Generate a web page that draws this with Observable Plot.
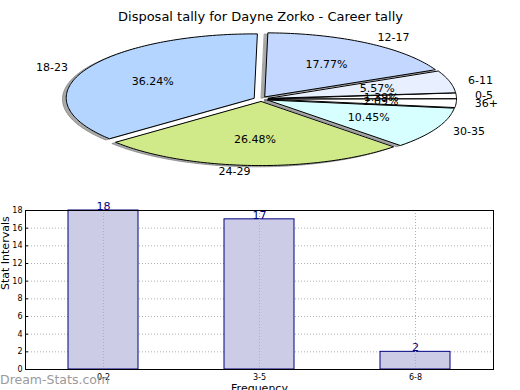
<!DOCTYPE html>
<html>
<head>
<meta charset="utf-8">
<script src="https://cdn.jsdelivr.net/npm/d3@7"></script>
<script src="https://cdn.jsdelivr.net/npm/@observablehq/plot@0.6"></script>
<style>
  html, body { margin: 0; padding: 0; background: #fff; }
  #wrap { position: relative; width: 520px; height: 390px; overflow: hidden; font-family: "DejaVu Sans", sans-serif; }
  #pie, #bar { position: absolute; left: 0; }
  #pie { top: 0; }
  #bar { top: 200px; }
  #wm { position: absolute; left: 0; top: 372px; font-size: 12.5px; color: #9a9a9a; font-family: "DejaVu Sans", sans-serif; }
</style>
</head>
<body>
<div id="wrap">
  <div id="pie"></div>
  <div id="bar"></div>
  <div id="wm">Dream-Stats.com</div>
</div>
<script>
// ---- data ----
const title = "Disposal tally for Dayne Zorko - Career tally";
const pieLabels = ["0-5", "6-11", "12-17", "18-23", "24-29", "30-35", "36+"];
const piePct = [1.39, 5.57, 17.77, 36.24, 26.48, 10.45, 2.09];
const pieColors = ["#ffffff", "#e8f0ff", "#c4d8ff", "#b3d5ff", "#d0ea8a", "#d8ffff", "#ffffff"];

const barCats = ["0-2", "3-5", "6-8"];
const barVals = [18, 17, 2];
const yTicks = [0, 2, 4, 6, 8, 10, 12, 14, 16, 18];

// ---- pie geometry (derived from data) ----
const cx = 260.5, cy = 98.5, rx = 188, ry = 64, explode = 0.04;
const total = d3.sum(piePct);
const slices = [];
let cum = 0;
piePct.forEach((v, i) => {
  const a0 = cum / total * 2 * Math.PI;
  cum += v;
  const a1 = cum / total * 2 * Math.PI;
  const mid = (a0 + a1) / 2;
  slices.push({label: pieLabels[i], pct: v, color: pieColors[i], a0, a1, mid, i});
});
function pt(s, a, r) {
  const ox = cx + explode * rx * Math.cos(s.mid);
  const oy = cy - explode * ry * Math.sin(s.mid);
  return [ox + r * rx * Math.cos(a), oy - r * ry * Math.sin(a)];
}
const poly = [];
const shadow = [];
slices.forEach(s => {
  const n = Math.max(4, Math.ceil((s.a1 - s.a0) / 0.02));
  const pts = [pt(s, s.mid, 0)];
  for (let k = 0; k <= n; k++) pts.push(pt(s, s.a0 + (s.a1 - s.a0) * k / n, 1));
  pts.forEach(([x, y]) => {
    poly.push({x, y, key: s.label, color: s.color});
    shadow.push({x: x - 0.02 * rx, y: y + 0.02 * ry, key: s.label});
  });
});
const outerLabels = slices.map(s => {
  const [x, y] = pt(s, s.mid, 1.1);
  return {x, y, text: s.label, left: Math.cos(s.mid) < 0};
});
const pctLabels = slices.map(s => {
  const [x, y] = pt(s, s.mid, 0.6);
  return {x, y, text: s.pct.toFixed(2) + "%"};
});

const pie = Plot.plot({
  width: 520, height: 200,
  margin: 0,
  x: {type: "linear", domain: [0, 520], range: [0, 520], axis: null},
  y: {type: "linear", domain: [0, 200], range: [0, 200], axis: null},
  style: {fontFamily: "DejaVu Sans, sans-serif", background: "white"},
  marks: [
    Plot.line(shadow, {x: "x", y: "y", z: "key", fill: "#707070", fillOpacity: 0.6, stroke: "#707070", strokeOpacity: 0.6, strokeWidth: 1, curve: "linear-closed"}),
    Plot.line(poly, {x: "x", y: "y", z: "key", fill: "color", stroke: "black", strokeWidth: 1, curve: "linear-closed"}),
    Plot.text(outerLabels.filter(d => d.left), {x: "x", y: "y", text: "text", textAnchor: "end", fontSize: 11, fill: "black"}),
    Plot.text(outerLabels.filter(d => !d.left), {x: "x", y: "y", text: "text", textAnchor: "start", fontSize: 11, fill: "black"}),
    Plot.text(pctLabels, {x: "x", y: "y", text: "text", fontSize: 11, fill: "black"}),
    Plot.text([title], {frameAnchor: "top", dy: 11, text: d => d, fontSize: 13, fill: "black"})
  ]
});
document.getElementById("pie").appendChild(pie);

// ---- bar chart ----
const bars = barCats.map((c, i) => ({cat: c, val: barVals[i]}));
const bar = Plot.plot({
  width: 520, height: 190,
  marginLeft: 25, marginRight: 27, marginTop: 10, marginBottom: 21,
  x: {domain: barCats, paddingInner: 0.55, paddingOuter: 0.275, label: null},
  y: {domain: [0, 18], label: null},
  style: {fontFamily: "DejaVu Sans, sans-serif", background: "white"},
  marks: [
    Plot.ruleY(yTicks, {stroke: "#b0b0b0", strokeDasharray: "1,2"}),
    Plot.ruleX(barCats, {stroke: "#b0b0b0", strokeDasharray: "1,2"}),
    Plot.barY(bars, {x: "cat", y: "val", fill: "#ccccE6", stroke: "#000080", strokeWidth: 1}),
    Plot.ruleX(barCats, {stroke: "#b0b0b0", strokeDasharray: "1,2"}),
    Plot.text(bars, {x: "cat", y: "val", text: d => String(d.val), dy: -4, fill: "#000080", fontSize: 11}),
    Plot.axisY({ticks: yTicks, tickSize: -3, tickPadding: 6, fontSize: 8, tickFormat: d => String(d), label: null}),
    Plot.axisX({tickSize: 0, tickPadding: 5, fontSize: 8, label: null}),
    Plot.text(["Stat Intervals"], {frameAnchor: "left", dx: -20, rotate: -90, text: d => d, fontSize: 11, fill: "black"}),
    Plot.text(["Frequency"], {frameAnchor: "bottom", dy: 22, text: d => d, fontSize: 11, fill: "black"}),
    Plot.frame({stroke: "black", strokeWidth: 1})
  ]
});
document.getElementById("bar").appendChild(bar);
</script>
</body>
</html>
